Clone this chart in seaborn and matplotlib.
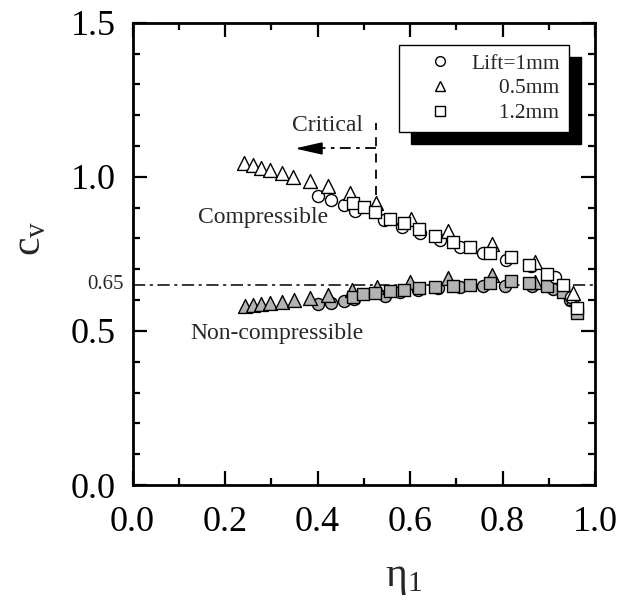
import matplotlib
matplotlib.use("Agg")
import seaborn as sns
import matplotlib.pyplot as plt
from matplotlib.lines import Line2D
from matplotlib.ticker import MultipleLocator
from matplotlib.transforms import blended_transform_factory

# compressible branch (open markers)
circ_c_x = [0.401, 0.429, 0.457, 0.481, 0.544, 0.583, 0.622, 0.665, 0.708, 0.758, 0.807, 0.862, 0.914, 0.948]
circ_c_y = [0.937, 0.925, 0.908, 0.889, 0.860, 0.837, 0.818, 0.795, 0.772, 0.753, 0.730, 0.711, 0.675, 0.610]
tri_c_x = [0.242, 0.260, 0.278, 0.298, 0.323, 0.348, 0.384, 0.423, 0.470, 0.526, 0.602, 0.683, 0.777, 0.870, 0.953]
tri_c_y = [1.044, 1.038, 1.030, 1.022, 1.011, 0.998, 0.986, 0.970, 0.948, 0.914, 0.863, 0.825, 0.782, 0.725, 0.622]
sq_c_x = [0.477, 0.501, 0.524, 0.557, 0.586, 0.620, 0.654, 0.692, 0.730, 0.773, 0.818, 0.858, 0.897, 0.931, 0.960]
sq_c_y = [0.916, 0.901, 0.887, 0.862, 0.849, 0.830, 0.808, 0.789, 0.771, 0.754, 0.739, 0.713, 0.685, 0.649, 0.573]

# non-compressible branch (gray markers)
circ_n_x = [0.402, 0.429, 0.457, 0.479, 0.546, 0.578, 0.618, 0.661, 0.708, 0.758, 0.805, 0.863, 0.910, 0.946]
circ_n_y = [0.587, 0.592, 0.598, 0.603, 0.613, 0.627, 0.633, 0.638, 0.643, 0.646, 0.646, 0.646, 0.635, 0.600]
tri_n_x = [0.243, 0.260, 0.278, 0.297, 0.323, 0.349, 0.384, 0.423, 0.474, 0.528, 0.600, 0.683, 0.777, 0.870, 0.953]
tri_n_y = [0.581, 0.584, 0.587, 0.592, 0.595, 0.600, 0.606, 0.616, 0.633, 0.643, 0.659, 0.671, 0.681, 0.660, 0.607]
sq_n_x = [0.477, 0.499, 0.524, 0.557, 0.586, 0.620, 0.654, 0.692, 0.730, 0.773, 0.818, 0.858, 0.897, 0.931, 0.960]
sq_n_y = [0.611, 0.620, 0.624, 0.630, 0.633, 0.638, 0.643, 0.646, 0.649, 0.656, 0.663, 0.654, 0.646, 0.627, 0.557]

legend_labels = ["Lift=1mm", "     0.5mm", "     1.2mm"]
critical_line = 0.65

sns.set_style("ticks")
plt.rcParams["font.family"] = ["Liberation Serif", "DejaVu Serif"]
plt.rcParams["mathtext.fontset"] = "custom"
plt.rcParams["mathtext.rm"] = "Liberation Serif"

fig = plt.figure(figsize=(6.21, 6.09), dpi=100)
ax = fig.add_axes([0.2134, 0.2036, 0.7448, 0.7591])

gray = "#b3b3b3"
kw = dict(edgecolor="black", linewidth=1.0, ax=ax, legend=False)
sns.scatterplot(x=circ_n_x, y=circ_n_y, marker="o", s=75, color=gray, zorder=3, **kw)
sns.scatterplot(x=tri_n_x, y=tri_n_y, marker="^", s=100, color=gray, zorder=3, **kw)
sns.scatterplot(x=sq_n_x, y=sq_n_y, marker="s", s=75, color=gray, zorder=3, **kw)
sns.scatterplot(x=circ_c_x, y=circ_c_y, marker="o", s=75, color="white", zorder=3, **kw)
sns.scatterplot(x=tri_c_x, y=tri_c_y, marker="^", s=100, color="white", zorder=3, **kw)
sns.scatterplot(x=sq_c_x, y=sq_c_y, marker="s", s=75, color="white", zorder=3, **kw)

# 0.65 reference line
ax.axhline(critical_line, color="black", lw=1.1, ls=(0, (8, 3, 2, 3)), zorder=2)
trans = blended_transform_factory(ax.transAxes, ax.transData)
ax.text(-0.02, critical_line, "0.65", transform=trans, ha="right", va="center", fontsize=15)

# critical marker
ax.plot([0.526, 0.526], [0.94, 1.175], color="black", lw=1.3, ls=(0, (5, 4)))
ax.plot([0.526, 0.40], [1.092, 1.092], color="black", lw=1.3, ls=(0, (6, 3, 2, 3)))
ax.annotate("", xy=(0.351, 1.092), xytext=(0.405, 1.092),
            arrowprops=dict(arrowstyle="-|>,head_length=1.1,head_width=0.25",
                            mutation_scale=15, color="black", lw=1.3, shrinkA=0, shrinkB=0))
ax.text(0.344, 1.168, "Critical", fontsize=17, ha="left", va="center")
ax.text(0.142, 0.868, "Compressible", fontsize=17, ha="left", va="center")
ax.text(0.124, 0.493, "Non-compressible", fontsize=17, ha="left", va="center")

ax.set_xlim(0, 1.0)
ax.set_ylim(0, 1.5)
ax.xaxis.set_major_locator(MultipleLocator(0.2))
ax.xaxis.set_minor_locator(MultipleLocator(0.1))
ax.yaxis.set_major_locator(MultipleLocator(0.5))
ax.yaxis.set_minor_locator(MultipleLocator(0.1))
ax.tick_params(which="both", direction="in", top=True, right=True, width=1.6,
               labelsize=26, pad=12, color="black", labelcolor="black")
ax.tick_params(axis="x", which="both", pad=15)
ax.tick_params(which="major", length=10)
ax.tick_params(which="minor", length=5)
for sp in ax.spines.values():
    sp.set_linewidth(2)
    sp.set_color("black")

ax.set_xlabel(r"$\mathregular{\eta_1}$", fontsize=30)
ax.set_ylabel(r"$\mathregular{c_v}$", fontsize=30)
ax.xaxis.set_label_coords(0.585, -0.16)
ax.yaxis.set_label_coords(-0.18, 0.534)

handles = [
    Line2D([], [], ls="", marker="o", mfc="white", mec="black", ms=7),
    Line2D([], [], ls="", marker="^", mfc="white", mec="black", ms=7.5),
    Line2D([], [], ls="", marker="s", mfc="white", mec="black", ms=6.5),
]
leg = ax.legend(handles, legend_labels, loc="upper right", bbox_to_anchor=(0.944, 0.952),
                borderaxespad=0, fontsize=15.5, frameon=True, fancybox=False,
                handlelength=3.0, handletextpad=0.0, borderpad=0.4, labelspacing=0.22,
                shadow={"ox": 8.6, "oy": -8.6, "facecolor": "black", "edgecolor": "black", "alpha": 1})
leg.get_frame().set_edgecolor("black")
leg.get_frame().set_linewidth(1.0)
leg.get_frame().set_alpha(1)

fig.savefig("out.png", dpi=100)
